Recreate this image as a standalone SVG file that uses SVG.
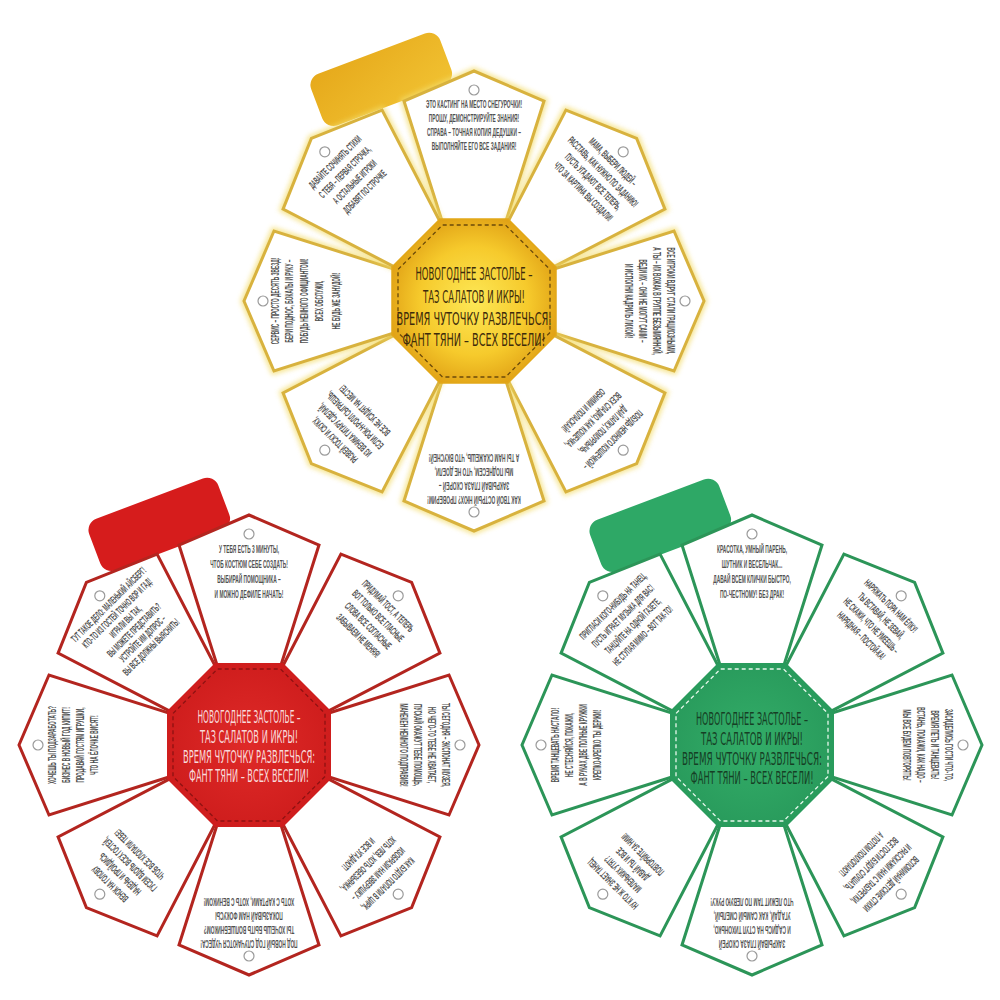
<svg xmlns="http://www.w3.org/2000/svg" xmlns:xlink="http://www.w3.org/1999/xlink" width="1000" height="1000" viewBox="0 0 1000 1000">
<defs>
<polygon id="petal" points="-32,-80 -70,-200 0,-230 70,-200 32,-80"/>
<polygon id="oct" points="82,34 34,82 -34,82 -82,34 -82,-34 -34,-82 34,-82 82,-34"/>
<polygon id="octIn" points="76,31.5 31.5,76 -31.5,76 -76,31.5 -76,-31.5 -31.5,-76 31.5,-76 76,-31.5"/>
<filter id="blur" x="-20%" y="-20%" width="140%" height="140%"><feGaussianBlur stdDeviation="2.5"/></filter>
<radialGradient id="gY" cx="0.5" cy="0.5" r="0.55"><stop offset="0" stop-color="#fde856"/><stop offset="0.6" stop-color="#f6ca2c"/><stop offset="1" stop-color="#df9f14"/></radialGradient>
<radialGradient id="gR" cx="0.5" cy="0.5" r="0.6"><stop offset="0" stop-color="#df2a28"/><stop offset="1" stop-color="#cc1b1b"/></radialGradient>
<radialGradient id="gG" cx="0.5" cy="0.5" r="0.6"><stop offset="0" stop-color="#33ad68"/><stop offset="1" stop-color="#27985a"/></radialGradient>
<linearGradient id="tY" x1="0" y1="0" x2="1" y2="1"><stop offset="0" stop-color="#e6a91b"/><stop offset="1" stop-color="#f1c232"/></linearGradient>
</defs>
<style>
.petal{fill:#fff;stroke-width:3;stroke-linejoin:miter}
.py{stroke:#d8b23e}
.pr{stroke:#b3251f}
.pg{stroke:#2c9558}
.glow{fill:none;stroke:#f3dc6a;stroke-width:7;opacity:.75;filter:url(#blur)}
.hole{fill:#fff;stroke:#9a9a9a;stroke-width:1.2}
.pt{font-family:"Liberation Sans","DejaVu Sans",sans-serif;font-weight:bold;font-size:10.5px;fill:#525252;text-anchor:middle}
.ct{font-family:"DejaVu Sans","Liberation Sans",sans-serif;text-anchor:middle}
.dash{fill:none;stroke-width:1.3;stroke-dasharray:4 3}
</style>
<rect width="1000" height="1000" fill="#fff"/>

<!-- YELLOW -->
<g id="flower-yellow" transform="translate(474,301)">
 <g id="y-tab"><rect x="0" y="0" width="138" height="55" rx="12" fill="url(#tY)" transform="translate(-167,-223) rotate(-20.7)"/></g>
 <g id="y-p0" transform="rotate(0)">
  <use href="#petal" class="glow"/><use href="#petal" class="petal py"/><circle class="hole" cy="-211" r="5"/>
  <g class="pt" transform="scale(0.46,1)"><text y="-193">ЭТО КАСТИНГ НА МЕСТО СНЕГУРОЧКИ!</text><text y="-179">ПРОШУ, ДЕМОНСТРИРУЙТЕ ЗНАНИЯ!</text><text y="-165">СПРАВА – ТОЧНАЯ КОПИЯ ДЕДУШКИ –</text><text y="-151">ВЫПОЛНЯЙТЕ ЕГО ВСЕ ЗАДАНИЯ!</text></g>
 </g>
 <g id="y-p45" transform="rotate(45)">
  <use href="#petal" class="glow"/><use href="#petal" class="petal py"/><circle class="hole" cy="-211" r="5"/>
  <g class="pt" transform="scale(0.46,1)"><text y="-193">МАМА, ВЫБЕРИ ЛЮДЕЙ –</text><text y="-179">РАССТАВЬ, КАК НУЖНО ПО ЗАДАНИЮ!</text><text y="-165">ПУСТЬ УГАДАЮТ ВСЕ ТЕПЕРЬ,</text><text y="-151">ЧТО ЗА КАРТИНА ВЫ СОЗДАЛИ!</text></g>
 </g>
 <g id="y-p90" transform="rotate(90)">
  <use href="#petal" class="glow"/><use href="#petal" class="petal py"/><circle class="hole" cy="-211" r="5"/>
  <g class="pt" transform="scale(0.46,1)"><text y="-193">ВСЕ ИГРОКИ ВДРУГ СТАЛИ ГРАЦИОЗНЫМИ,</text><text y="-179">А ТЫ – ИХ ВОЖАК В ГРУППЕ БЕЗЫМЯННОЙ,</text><text y="-165">ВЕДИ ИХ – ОНИ НЕ МОГУТ САМИ –</text><text y="-151">И ИСПОЛНИ КАДРИЛЬ ЛИХОЙ!</text></g>
 </g>
 <g id="y-p135" transform="rotate(135)">
  <use href="#petal" class="glow"/><use href="#petal" class="petal py"/><circle class="hole" cy="-211" r="5"/>
  <g class="pt" transform="scale(0.46,1)"><text y="-193">ПОБУДЬ НЕМНОГО КОШЕЧКОЙ –</text><text y="-179">ДАЙ ЛАПКУ, ПОМУРЛЫЧЬ,</text><text y="-165">ВСЕХ СЛАДКО, КАК КОШЕЧКА,</text><text y="-151">ОБНИМИ И ПОЛАСКАЙ!</text></g>
 </g>
 <g id="y-p180" transform="rotate(180)">
  <use href="#petal" class="glow"/><use href="#petal" class="petal py"/><circle class="hole" cy="-211" r="5"/>
  <g class="pt" transform="scale(0.46,1)"><text y="-195">КАК ТВОЙ ОСТРЫЙ НЮХ? ПРОВЕРИМ!</text><text y="-181">ЗАКРЫВАЙ ГЛАЗА СКОРЕЙ –</text><text y="-167">МЫ ПОДНЕСЕМ, ЧТО НЕ ДОЕЛИ,</text><text y="-153">А ТЫ НАМ СКАЖЕШЬ, ЧТО ВКУСНЕЙ!</text></g>
 </g>
 <g id="y-p225" transform="rotate(225)">
  <use href="#petal" class="glow"/><use href="#petal" class="petal py"/><circle class="hole" cy="-211" r="5"/>
  <g class="pt" transform="scale(0.46,1)"><text y="-193">РАЗВЕЙ ТОСКУ И СКУКУ,</text><text y="-179">ИЗ ВЕНИКА ГИТАРУ СДЕЛАЙ,</text><text y="-165">ЕСЛИ РОК-Н-РОЛЛ СЫГРАЕШЬ,</text><text y="-151">ВСЕ НЕ УСИДЯТ НА МЕСТЕ!</text></g>
 </g>
 <g id="y-p270" transform="rotate(270)">
  <use href="#petal" class="glow"/><use href="#petal" class="petal py"/><circle class="hole" cy="-211" r="5"/>
  <g class="pt" transform="scale(0.46,1)"><text y="-195">СЕРВИС – ПРОСТО ДЕСЯТЬ ЗВЕЗД!</text><text y="-181">БЕРИ ПОДНОС, БОКАЛЫ И РУКУ –</text><text y="-166">ПОБУДЬ НЕМНОГО ОФИЦИАНТОМ!</text><text y="-151">ВСЕХ ОБСЛУЖИ,</text><text y="-134">НЕ БУДЬ ЖЕ ЗАНУДОЙ!</text></g>
 </g>
 <g id="y-p315" transform="rotate(315)">
  <use href="#petal" class="glow"/><use href="#petal" class="petal py"/><circle class="hole" cy="-211" r="5"/>
  <g class="pt" transform="scale(0.46,1)"><text y="-193">ДАВАЙТЕ СОЧИНЯТЬ СТИХИ</text><text y="-179">С ТЕБЯ – ПЕРВАЯ СТРОЧКА,</text><text y="-165">А ОСТАЛЬНЫЕ ИГРОКИ</text><text y="-151">ДОБАВЯТ ПО СТРОЧКЕ</text></g>
 </g>
 <g id="y-center">
  <use href="#oct" fill="url(#gY)" stroke="#e2a818" stroke-width="1.5"/>
  <use href="#octIn" class="dash" stroke="#6b4a0a"/>
  <g class="ct" fill="#3d2b0b" font-size="18.5">
   <text y="-21" textLength="117" lengthAdjust="spacingAndGlyphs">НОВОГОДНЕЕ ЗАСТОЛЬЕ –</text>
   <text y="2" textLength="102" lengthAdjust="spacingAndGlyphs">ТАЗ САЛАТОВ И ИКРЫ!</text>
   <text y="24" textLength="155" lengthAdjust="spacingAndGlyphs">ВРЕМЯ ЧУТОЧКУ РАЗВЛЕЧЬСЯ:</text>
   <text y="45" textLength="143" lengthAdjust="spacingAndGlyphs">ФАНТ ТЯНИ – ВСЕХ ВЕСЕЛИ!</text>
  </g>
 </g>
</g>

<!-- RED -->
<g id="flower-red" transform="translate(249,745)">
 <g id="r-tab"><rect x="0" y="0" width="138" height="55" rx="12" fill="#d61c1c" transform="translate(-164,-222) rotate(-20.7)"/></g>
 <g id="r-p0" transform="rotate(0)">
  <use href="#petal" class="petal pr"/><circle class="hole" cy="-211" r="5"/>
  <g class="pt" transform="scale(0.46,1)"><text y="-192">У ТЕБЯ ЕСТЬ 3 МИНУТЫ,</text><text y="-177">ЧТОБ КОСТЮМ СЕБЕ СОЗДАТЬ!</text><text y="-162">ВЫБИРАЙ ПОМОЩНИКА –</text><text y="-147">И МОЖНО ДЕФИЛЕ НАЧАТЬ!</text></g>
 </g>
 <g id="r-p45" transform="rotate(45)">
  <use href="#petal" class="petal pr"/><circle class="hole" cy="-211" r="5"/>
  <g class="pt" transform="scale(0.46,1)"><text y="-193">ПРИДУМАЙ ТОСТ, А ТЕПЕРЬ</text><text y="-179">ВОТ ТОЛЬКО ВСЕ ГЛАСНЫЕ</text><text y="-165">СЛОВА ВСЕ СОГЛАСНЫЕ</text><text y="-151">ЗАБЫВАЕМ НЕ МЕНЯЯ!</text></g>
 </g>
 <g id="r-p90" transform="rotate(90)">
  <use href="#petal" class="petal pr"/><circle class="hole" cy="-211" r="5"/>
  <g class="pt" transform="scale(0.46,1)"><text y="-193">ТЫ СЕГОДНЯ – ЭКСПОНАТ МУЗЕЯ,</text><text y="-179">НО ЧЕГО-ТО ТЕБЕ НЕ ХВАТАЕТ,</text><text y="-165">ПУСКАЙ ОКАЖУТ ТЕБЕ ПОМОЩЬ,</text><text y="-151">МАНЕКЕН НЕМНОГО ПОДПРАВИВ!</text></g>
 </g>
 <g id="r-p135" transform="rotate(135)">
  <use href="#petal" class="petal pr"/><circle class="hole" cy="-211" r="5"/>
  <g class="pt" transform="scale(0.46,1)"><text y="-193">КАК БУДТО ПОПАЛИ В ЦИРК,</text><text y="-179">ИЗОБРАЗИ НАМ ЗВЕРУШКУ –</text><text y="-165">ХОТЬ ЛЕВ, ХОТЬ ОБЕЗЬЯНКА,</text><text y="-151">И ВСЕ УГАДАЮТ!</text></g>
 </g>
 <g id="r-p180" transform="rotate(180)">
  <use href="#petal" class="petal pr"/><circle class="hole" cy="-211" r="5"/>
  <g class="pt" transform="scale(0.46,1)"><text y="-195">ПОД НОВЫЙ ГОД СЛУЧАЮТСЯ ЧУДЕСА!</text><text y="-181">ТЫ ХОЧЕШЬ БЫТЬ ВОЛШЕБНИКОМ?</text><text y="-167">ПОКАЗЫВАЙ НАМ ФОКУСЫ</text><text y="-153">ХОТЬ С КАРТАМИ, ХОТЬ С ВЕНИКОМ!</text></g>
 </g>
 <g id="r-p225" transform="rotate(225)">
  <use href="#petal" class="petal pr"/><circle class="hole" cy="-211" r="5"/>
  <g class="pt" transform="scale(0.46,1)"><text y="-193">ВЕНОК НА ГОЛОВУ</text><text y="-179">НАДЕНЬ И ПРОЙДИСЬ</text><text y="-165">ГУСЕМ ВДОЛЬ ВСЕХ ГОСТЕЙ,</text><text y="-151">ЧТОБ ВСЕ ХЛОПАЛИ ТЕБЕ!</text></g>
 </g>
 <g id="r-p270" transform="rotate(270)">
  <use href="#petal" class="petal pr"/><circle class="hole" cy="-211" r="5"/>
  <g class="pt" transform="scale(0.46,1)"><text y="-193">ХОЧЕШЬ ТЫ ПОДЗАРАБОТАТЬ?</text><text y="-179">БИЗНЕС В НОВЫЙ ГОД КИПИТ!</text><text y="-165">ПРОДАВАЙ ГОСТЯМ ИГРУШКИ,</text><text y="-151">ЧТО НА ЁЛОЧКЕ ВИСЯТ!</text></g>
 </g>
 <g id="r-p315" transform="rotate(315)">
  <use href="#petal" class="petal pr"/><circle class="hole" cy="-211" r="5"/>
  <g class="pt" transform="scale(0.46,1)"><text y="-195">ТУТ ТАКОЕ ДЕЛО: МАЛЕНЬКИЙ АЙСБЕРГ!</text><text y="-183">КТО-ТО ИЗ ГОСТЕЙ ТОЧНО ВОР И ГАД!</text><text y="-171">ИГРАЛИ ВЫ ТАК,</text><text y="-159">ВЫ МОЖЕТЕ ПРЕДСТАВИТЬ?</text><text y="-147">УСТРОЙТЕ ИМ ДОПРОС –</text><text y="-135">ВЫ ВСЕ ДОЛЖНЫ ВЫЯСНИТЬ!</text></g>
 </g>
 <g id="r-center">
  <use href="#oct" fill="url(#gR)"/>
  <use href="#octIn" class="dash" stroke="#8e1212"/>
  <g class="ct" fill="#f8dada" font-size="17">
   <text y="-22" textLength="103" lengthAdjust="spacingAndGlyphs">НОВОГОДНЕЕ ЗАСТОЛЬЕ –</text>
   <text y="-2" textLength="98" lengthAdjust="spacingAndGlyphs">ТАЗ САЛАТОВ И ИКРЫ!</text>
   <text y="18" textLength="132" lengthAdjust="spacingAndGlyphs">ВРЕМЯ ЧУТОЧКУ РАЗВЛЕЧЬСЯ:</text>
   <text y="37" textLength="120" lengthAdjust="spacingAndGlyphs">ФАНТ ТЯНИ – ВСЕХ ВЕСЕЛИ!</text>
  </g>
 </g>
</g>

<!-- GREEN -->
<g id="flower-green" transform="translate(752,745)">
 <g id="g-tab"><rect x="0" y="0" width="138" height="55" rx="12" fill="#2ea866" transform="translate(-166,-221) rotate(-20.7)"/></g>
 <g id="g-p0" transform="rotate(0)">
  <use href="#petal" class="petal pg"/><circle class="hole" cy="-211" r="5"/>
  <g class="pt" transform="scale(0.46,1)"><text y="-192">КРАСОТКА, УМНЫЙ ПАРЕНЬ,</text><text y="-177">ШУТНИК И ВЕСЕЛЬЧАК...</text><text y="-162">ДАВАЙ ВСЕМ КЛИЧКИ БЫСТРО,</text><text y="-147">ПО-ЧЕСТНОМУ! БЕЗ ДРАК!</text></g>
 </g>
 <g id="g-p45" transform="rotate(45)">
  <use href="#petal" class="petal pg"/><circle class="hole" cy="-211" r="5"/>
  <g class="pt" transform="scale(0.46,1)"><text y="-193">НАРЯЖАТЬ ПОРА НАМ ЁЛКУ!</text><text y="-179">ТЫ ВСТАВАЙ, НЕ ЗЕВАЙ,</text><text y="-165">НЕ СКАЖИ, ЧТО НЕ УМЕЕШЬ –</text><text y="-151">НАРЯДНАЯ – ПОСТОЙ-КА!</text></g>
 </g>
 <g id="g-p90" transform="rotate(90)">
  <use href="#petal" class="petal pg"/><circle class="hole" cy="-211" r="5"/>
  <g class="pt" transform="scale(0.46,1)"><text y="-193">ЗАСИДЕЛИСЬ ГОСТИ ЧТО-ТО,</text><text y="-179">ВРЕМЯ ПЕТЬ И ТАНЦЕВАТЬ!</text><text y="-165">ВСТАНЬ, ПОКАЖИ, КАК НАДО –</text><text y="-151">МЫ ВСЕ БУДЕМ ПОВТОРЯТЬ!</text></g>
 </g>
 <g id="g-p135" transform="rotate(135)">
  <use href="#petal" class="petal pg"/><circle class="hole" cy="-211" r="5"/>
  <g class="pt" transform="scale(0.46,1)"><text y="-193">ВСПОМИНАЙ ДЕТСКИЕ СТИХИ</text><text y="-179">И РАССКАЖИ НАМ С ТАБУРЕТКИ,</text><text y="-165">ВСЕ ГОСТИ БУДУТ СЛУШАТЬ,</text><text y="-151">А ПОТОМ ПОХЛОПАЮТ!</text></g>
 </g>
 <g id="g-p180" transform="rotate(180)">
  <use href="#petal" class="petal pg"/><circle class="hole" cy="-211" r="5"/>
  <g class="pt" transform="scale(0.46,1)"><text y="-195">ЗАКРЫВАЙ ГЛАЗА СКОРЕЙ</text><text y="-181">И САДИСЬ НА СТУЛ ТИХОНЬКО,</text><text y="-167">УГАДАЙ, КАК САМЫЙ СМЕЛЫЙ,</text><text y="-153">ЧТО ЛЕЖИТ ТАМ ПО ЛЕВУЮ РУКУ!</text></g>
 </g>
 <g id="g-p225" transform="rotate(225)">
  <use href="#petal" class="petal pg"/><circle class="hole" cy="-211" r="5"/>
  <g class="pt" transform="scale(0.46,1)"><text y="-193">НУ КТО Ж НЕ ЗНАЕТ ТАНЕЦ</text><text y="-179">МАЛЕНЬКИХ УТЯТ?</text><text y="-165">ДАВАЙ ТЫ И ВСЕ</text><text y="-151">ПОВТОРЯЙТЕ ЗА НИМ!</text></g>
 </g>
 <g id="g-p270" transform="rotate(270)">
  <use href="#petal" class="petal pg"/><circle class="hole" cy="-211" r="5"/>
  <g class="pt" transform="scale(0.46,1)"><text y="-193">ВРЕМЯ ТАНЦЕВАТЬ НАСТАЛО!</text><text y="-179">НЕ СТЕСНЯЙСЯ, ПОКАЖИ,</text><text y="-165">А В РУКАХ ДВЕ ПОЛНЫЕ КРУЖКИ</text><text y="-151">КРЕПКО-КРЕПКО ТЫ ДЕРЖИ!</text></g>
 </g>
 <g id="g-p315" transform="rotate(315)">
  <use href="#petal" class="petal pg"/><circle class="hole" cy="-211" r="5"/>
  <g class="pt" transform="scale(0.46,1)"><text y="-193">ПРИГЛАСИ КОГО-НИБУДЬ НА ТАНЕЦ,</text><text y="-179">ПУСТЬ ИГРАЕТ МУЗЫКА ДЛЯ ВАС!</text><text y="-165">ТАНЦУЙТЕ НА ОДНОЙ ГАЗЕТЕ,</text><text y="-151">НЕ СТУПАЯ МИМО – ВОТ ТАК-ТО!</text></g>
 </g>
 <g id="g-center">
  <use href="#oct" fill="url(#gG)"/>
  <use href="#octIn" class="dash" stroke="#e6f7ec"/>
  <g class="ct" fill="#163f25" font-size="17.5">
   <text y="-20" textLength="112" lengthAdjust="spacingAndGlyphs">НОВОГОДНЕЕ ЗАСТОЛЬЕ –</text>
   <text y="0" textLength="102" lengthAdjust="spacingAndGlyphs">ТАЗ САЛАТОВ И ИКРЫ!</text>
   <text y="20" textLength="140" lengthAdjust="spacingAndGlyphs">ВРЕМЯ ЧУТОЧКУ РАЗВЛЕЧЬСЯ:</text>
   <text y="39" textLength="123" lengthAdjust="spacingAndGlyphs">ФАНТ ТЯНИ – ВСЕХ ВЕСЕЛИ!</text>
  </g>
 </g>
</g>
</svg>
